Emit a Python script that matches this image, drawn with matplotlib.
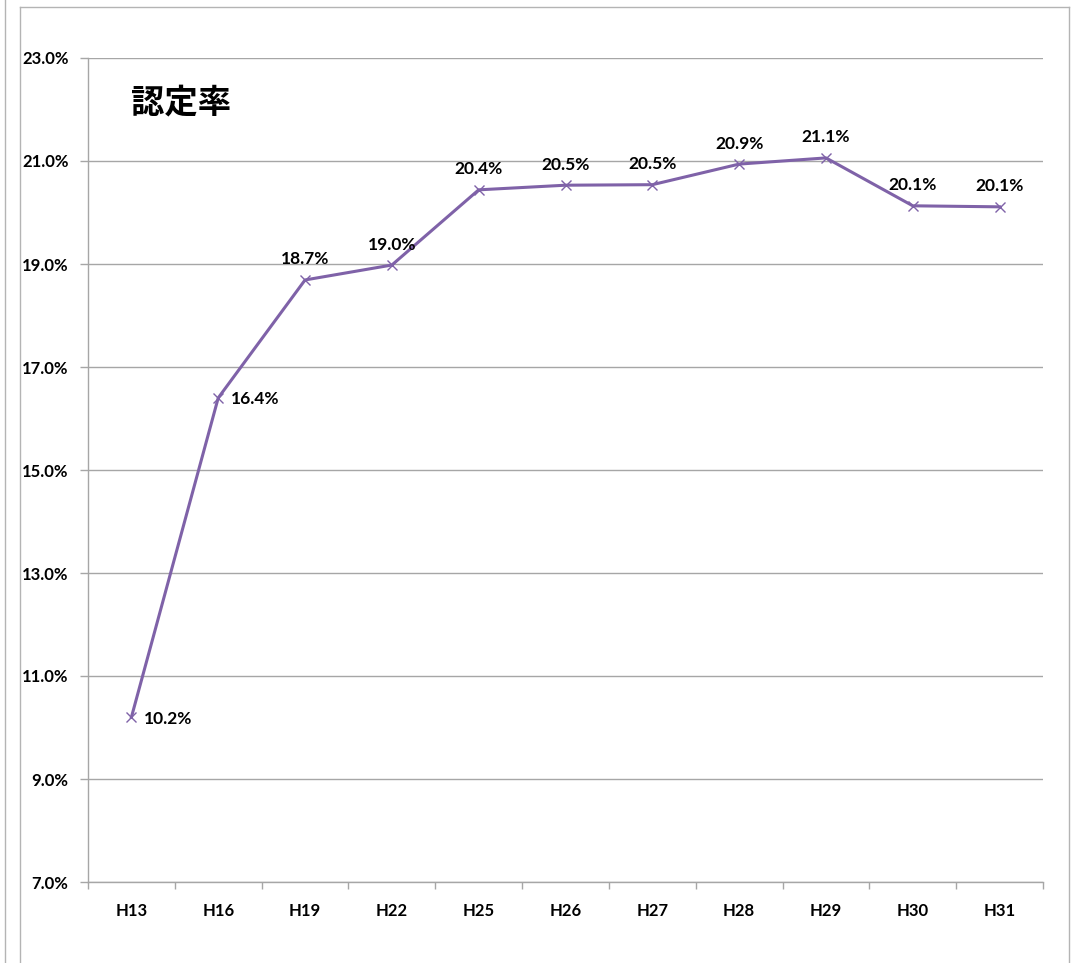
import matplotlib.pyplot as plt
from matplotlib.lines import Line2D
from matplotlib.ticker import FixedLocator

# data
years = ["H13", "H16", "H19", "H22", "H25", "H26", "H27", "H28", "H29", "H30", "H31"]
rates = [10.2, 16.4, 18.69, 18.98, 20.44, 20.53, 20.54, 20.94, 21.06, 20.13, 20.11]
label_pos = ["right", "right", "above", "above", "above", "above", "above",
             "above", "above", "above", "above"]
yticks = [7, 9, 11, 13, 15, 17, 19, 21, 23]

purple = "#7f62a8"
grid_gray = "#a6a6a6"
font = ["Lato", "DejaVu Sans"]


def main():
    fig = plt.figure(figsize=(10.77, 9.63), dpi=100)
    ax = fig.add_axes([88 / 1077, 1 - 882 / 963, (1043 - 88) / 1077, (882 - 58) / 963])

    x = list(range(len(years)))
    ax.plot(x, rates, color=purple, linewidth=2.2, marker="x", markersize=7,
            markeredgewidth=1.0, zorder=3)

    for xi, v, pos in zip(x, rates, label_pos):
        txt = f"{v:.1f}%"
        if pos == "right":
            ax.annotate(txt, (xi, v), xytext=(9, -1), textcoords="offset points",
                        ha="left", va="center", fontsize=12.5, fontweight="bold",
                        family=font)
        else:
            ax.annotate(txt, (xi, v), xytext=(0, 9), textcoords="offset points",
                        ha="center", va="bottom", fontsize=12.5, fontweight="bold",
                        family=font)

    ax.set_xlim(-0.5, len(years) - 0.5)
    ax.set_ylim(7, 23)
    ax.set_yticks(yticks)
    ax.set_yticklabels([f"{t:.1f}%" for t in yticks], fontsize=12,
                       fontweight="bold", family=font)
    ax.set_xticks(x)
    ax.set_xticklabels(years, fontsize=12, fontweight="bold", family=font)
    ax.xaxis.set_minor_locator(FixedLocator([i - 0.5 for i in range(len(years) + 1)]))

    ax.tick_params(axis="x", which="major", length=0, pad=15)
    ax.tick_params(axis="x", which="minor", length=5, color=grid_gray, width=1)
    ax.tick_params(axis="y", length=6, color=grid_gray, width=1, pad=8)

    ax.grid(axis="y", color=grid_gray, linewidth=1)
    ax.set_axisbelow(True)
    for side in ["top", "right"]:
        ax.spines[side].set_visible(False)
    for side in ["left", "bottom"]:
        ax.spines[side].set_color(grid_gray)
        ax.spines[side].set_linewidth(1)

    ax.text(131 / 1077, 1 - 103 / 963, "認定率", transform=fig.transFigure,
            fontsize=24, fontweight="bold", va="center", ha="left",
            family=["Noto Sans CJK JP", "DejaVu Sans"])

    # frame lines around the chart
    def px_line(x0, y0, x1, y1, color="#b4b4b4"):
        fig.add_artist(Line2D([x0 / 1077, x1 / 1077], [1 - y0 / 963, 1 - y1 / 963],
                              color=color, linewidth=1, transform=fig.transFigure))

    px_line(5, 0, 5, 963)
    px_line(20, 7, 20, 963)
    px_line(20, 7, 1069, 7)
    px_line(1069, 7, 1069, 963)

    fig.savefig("out.png", dpi=100)


if __name__ == "__main__":
    main()
